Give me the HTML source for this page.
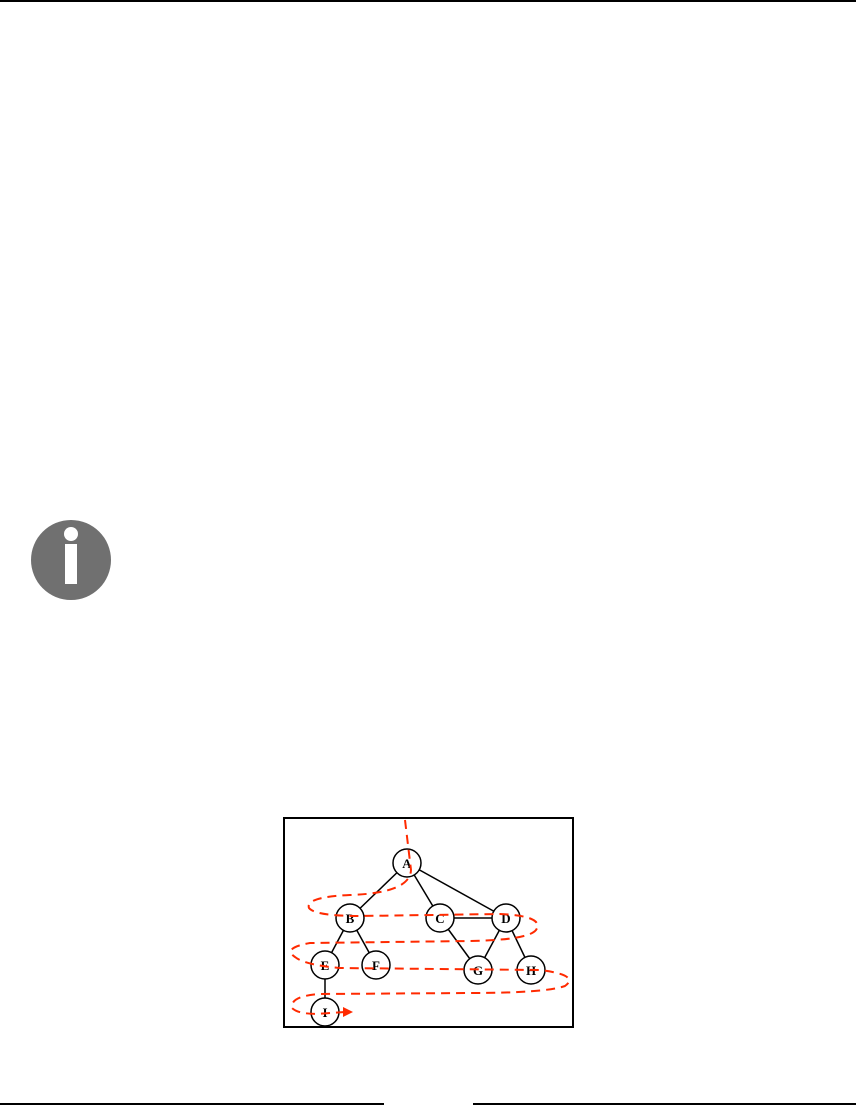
<!DOCTYPE html>
<html><head><meta charset="utf-8"><style>
body{margin:0;width:856px;height:1105px;background:#fff;position:relative;overflow:hidden;font-family:"Liberation Serif",serif}
</style></head><body>
<div style="position:absolute;left:0;top:0;width:856px;height:2px;background:#000"></div>
<svg style="position:absolute;left:0;top:0" width="856" height="1105">
<circle cx="71" cy="560" r="40" fill="#707070"/>
<circle cx="71" cy="534" r="7" fill="#fff"/>
<rect x="65" y="544" width="12" height="40" fill="#fff"/>
</svg>
<svg style="position:absolute;left:0;top:0" width="856" height="1105">
<rect x="284" y="818" width="289" height="209" fill="#fff" stroke="#000" stroke-width="2"/>
<g stroke="#000" stroke-width="1.5">
<line x1="407" y1="863" x2="350" y2="918"/><line x1="407" y1="863" x2="440" y2="918"/><line x1="407" y1="863" x2="506" y2="918"/>
<line x1="440" y1="918" x2="506" y2="918"/><line x1="350" y1="918" x2="325" y2="965"/><line x1="350" y1="918" x2="376" y2="965"/>
<line x1="440" y1="918" x2="478" y2="970"/><line x1="506" y1="918" x2="478" y2="970"/><line x1="506" y1="918" x2="531" y2="970"/>
<line x1="325" y1="965" x2="325" y2="1012"/>
</g>
<g fill="#fff" stroke="#000" stroke-width="1.5">
<circle cx="407" cy="863" r="14"/><circle cx="350" cy="918" r="14"/><circle cx="440" cy="918" r="14"/><circle cx="506" cy="918" r="14"/>
<circle cx="325" cy="965" r="14"/><circle cx="376" cy="965" r="14"/><circle cx="478" cy="970" r="14"/><circle cx="531" cy="970" r="14"/><circle cx="325" cy="1012" r="14"/>
</g>
<g font-weight="bold" font-size="13" text-anchor="middle">
<text x="407" y="868">A</text><text x="350" y="923">B</text><text x="440" y="923">C</text><text x="506" y="923">D</text>
<text x="325" y="970">E</text><text x="376" y="970">F</text><text x="478" y="975">G</text><text x="531" y="975">H</text><text x="325" y="1017">I</text>
</g>
<path d="M405 820 L411 870 Q410 893 350 895 Q305 897 309 908 Q315 916 360 916 L500 914 Q545 916 536 930 Q528 940 470 941 L310 943 Q282 948 295 957 Q305 965 340 968 L540 970 Q580 975 565 986 Q545 993 470 993 L320 994 Q290 996 292 1008 Q300 1016 330 1013 L345 1012" fill="none" stroke="#ff2a00" stroke-width="2" stroke-dasharray="9,6"/>
<polygon points="343,1007 353,1012 343,1017" fill="#ff2a00"/>
</svg>
<div style="position:absolute;left:0;top:1103px;width:384px;height:2px;background:#000"></div>
<div style="position:absolute;left:473px;top:1103px;width:383px;height:2px;background:#000"></div>
</body></html>
